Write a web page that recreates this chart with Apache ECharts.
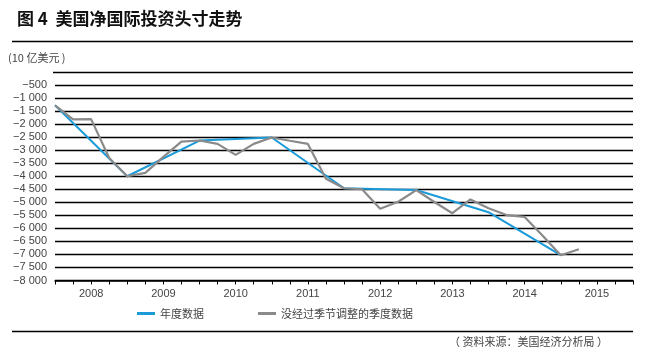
<!DOCTYPE html>
<html>
<head>
<meta charset="utf-8">
<script src="https://cdn.jsdelivr.net/npm/echarts@6/dist/echarts.min.js"></script>
<style>html,body{margin:0;padding:0;background:#fff;}#c{width:645px;height:361px;}</style>
</head>
<body>
<div id="c"></div>
<script>
// Year tick labels (each year spans 4 quarters; index 0 = end of 2007)
var years = ['2008','2009','2010','2011','2012','2013','2014','2015'];
// Annual data (year-end positions), quarter index of each point
var annualIdx = [0, 4, 8, 12, 16, 20, 24, 28];
var annualValues = [-1280, -4000, -2630, -2515, -4460, -4530, -5380, -7030];
// Quarterly, not seasonally adjusted (2007Q4 .. 2015Q1)
var quarterlyValues = [-1280, -1820, -1810, -3300, -4000, -3870, -3260, -2670, -2630,
  -2760, -3180, -2760, -2515, -2640, -2760, -4100, -4460, -4500, -5250, -4980, -4530,
  -4990, -5420, -4890, -5230, -5490, -5560, -6280, -7030, -6800];
var seriesNames = ['年度数据', '没经过季节调整的季度数据'];

var FONT = '"Liberation Sans", Arial, "Noto Sans CJK SC", sans-serif';
var CJK = '"Noto Sans CJK SC", "Liberation Sans", sans-serif';

function fmtY(v) {
  var a = Math.abs(v);
  var s = a >= 1000 ? Math.floor(a / 1000) + ' ' + String(a % 1000).padStart(3, '0') : String(a);
  return (v < 0 ? '\u2212' : '') + s;
}

var chart = echarts.init(document.getElementById('c'), null, {renderer: 'canvas'});
chart.setOption({
  backgroundColor: '#fff',
  animation: false,
  title: {
    text: '图 4  美国净国际投资头寸走势',
    left: 12, top: 5,
    textStyle: {fontSize: 17, fontWeight: 'bold', color: '#111', fontFamily: CJK}
  },
  graphic: [
    {type: 'line', shape: {x1: 12, y1: 41.5, x2: 633, y2: 41.5}, style: {stroke: '#000', lineWidth: 1.5}},
    {type: 'line', shape: {x1: 53, y1: 72.5, x2: 633, y2: 72.5}, style: {stroke: '#000', lineWidth: 1.5}},
    {type: 'line', shape: {x1: 12, y1: 331.5, x2: 633, y2: 331.5}, style: {stroke: '#000', lineWidth: 1.5}},
    {type: 'text', left: 8, top: 52, style: {text: '(10 亿美元 )', fontSize: 11, fill: '#444', fontFamily: CJK}},
    {type: 'text', right: 37, top: 336, style: {text: '（ 资料来源：美国经济分析局 ）', fontSize: 11, fill: '#444', fontFamily: CJK}}
  ],
  legend: {
    left: 137, top: 308, padding: 0,
    icon: 'rect', itemWidth: 18, itemHeight: 3, itemGap: 54,
    textStyle: {fontSize: 11, color: '#444', fontFamily: CJK},
    data: seriesNames
  },
  grid: {left: 55, right: 12, top: 85, bottom: 80.5, containLabel: false},
  xAxis: {
    type: 'value', min: 0, max: years.length * 4, interval: 1,
    axisLine: {show: true, lineStyle: {color: '#000', width: 1.5}},
    axisTick: {show: true, length: 4, inside: false, lineStyle: {color: '#000', width: 1}},
    splitLine: {show: false},
    axisLabel: {
      margin: 8, fontSize: 11, color: '#444', fontFamily: FONT, showMinLabel: true, showMaxLabel: true,
      formatter: function (v) { return (v % 4 === 2) ? years[(v - 2) / 4] : ''; }
    }
  },
  yAxis: {
    type: 'value', min: -8000, max: -500, interval: 500,
    axisLine: {show: false}, axisTick: {show: false},
    splitLine: {show: true, lineStyle: {color: '#000', width: 1.3}},
    axisLabel: {margin: 8, fontSize: 11, color: '#444', fontFamily: FONT, formatter: fmtY}
  },
  series: [
    {
      name: seriesNames[0], type: 'line', symbol: 'none', z: 3,
      itemStyle: {color: '#1a9ad8'},
      lineStyle: {color: '#1a9ad8', width: 2},
      data: annualIdx.map(function (q, i) { return [q, annualValues[i]]; })
    },
    {
      name: seriesNames[1], type: 'line', symbol: 'none', z: 4,
      itemStyle: {color: '#8a8a8a'},
      lineStyle: {color: '#8a8a8a', width: 2.2},
      data: quarterlyValues.map(function (v, i) { return [i, v]; })
    }
  ]
});
</script>
</body>
</html>
